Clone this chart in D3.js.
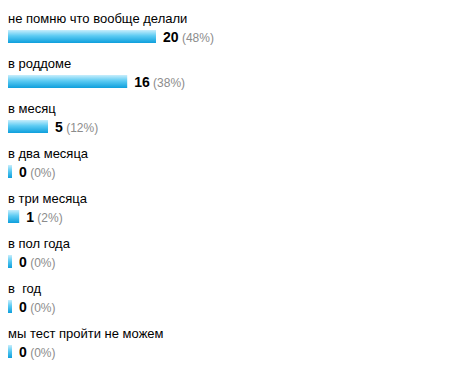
<!DOCTYPE html>
<html lang="ru">
<head>
    <meta charset="UTF-8">
    <title>Poll results</title>
    <script src="https://d3js.org/d3.v7.min.js" charset="utf-8"></script>
    <style>
        body { margin: 0; background: #fff; }
        svg { display: block; }
    </style>
</head>
<body>
    <div id="poll_chart"></div>
    <script>
        // poll answers and vote counts
        var answers = [
            'не помню что вообще делали',
            'в роддоме',
            'в месяц',
            'в два месяца',
            'в три месяца',
            'в пол года',
            'в  год',
            'мы тест пройти не можем'
        ];
        var votes = [20, 16, 5, 0, 1, 0, 0, 0];
        var percents = ['48%', '38%', '12%', '0%', '2%', '0%', '0%', '0%'];

        var svgWidth = 450;
        var svgHeight = 376;

        var data = answers.map((a, i) => ({ answer: a, votes: votes[i], pct: percents[i] }));

        var svg = d3.select('#poll_chart')
                    .append('svg')
                    .attr('width', svgWidth)
                    .attr('height', svgHeight);

        // gradient for bars, light on top, darker blue at the bottom
        var grad = svg.append('defs')
                      .append('linearGradient')
                      .attr('id', 'barGrad')
                      .attr('x1', 0).attr('y1', 0)
                      .attr('x2', 0).attr('y2', 1);
        grad.append('stop').attr('offset', '0%').attr('stop-color', '#c8eefc');
        grad.append('stop').attr('offset', '45%').attr('stop-color', '#5ccbf3');
        grad.append('stop').attr('offset', '100%').attr('stop-color', '#0e9fdc');

        // scales
        var yScale = d3.scaleBand()
                       .domain(answers)
                       .range([10, 10 + 45 * answers.length])
                       .paddingInner(0);

        var xScale = d3.scaleLinear()
                       .domain([0, d3.max(votes)])
                       .range([4, 148]);

        var left = 8;

        var rows = svg.selectAll('g.row')
                      .data(data)
                      .enter()
                      .append('g')
                      .attr('class', 'row')
                      .attr('transform', d => 'translate(' + left + ',' + yScale(d.answer) + ')');

        // answer text above each bar (keep the double space)
        rows.append('text')
            .attr('x', 0)
            .attr('y', 13)
            .style('font-family', '"Liberation Sans", Arial, sans-serif')
            .style('font-size', '13px')
            .style('white-space', 'pre')
            .attr('fill', '#000')
            .text(d => d.answer);

        rows.append('rect')
            .attr('x', 0)
            .attr('y', 20)
            .attr('width', d => xScale(d.votes))
            .attr('height', 13)
            .attr('fill', 'url(#barGrad)');

        // count in bold, percentage in grey
        var vals = rows.append('text')
            .attr('x', d => xScale(d.votes) + 7)
            .attr('y', 32)
            .style('font-family', '"Liberation Sans", Arial, sans-serif');

        vals.append('tspan')
            .style('font-size', '14px')
            .style('font-weight', 'bold')
            .attr('fill', '#000')
            .text(d => d.votes);

        vals.append('tspan')
            .style('font-size', '12px')
            .attr('fill', '#8c8c8c')
            .text(d => ' (' + d.pct + ')');
    </script>
</body>
</html>
